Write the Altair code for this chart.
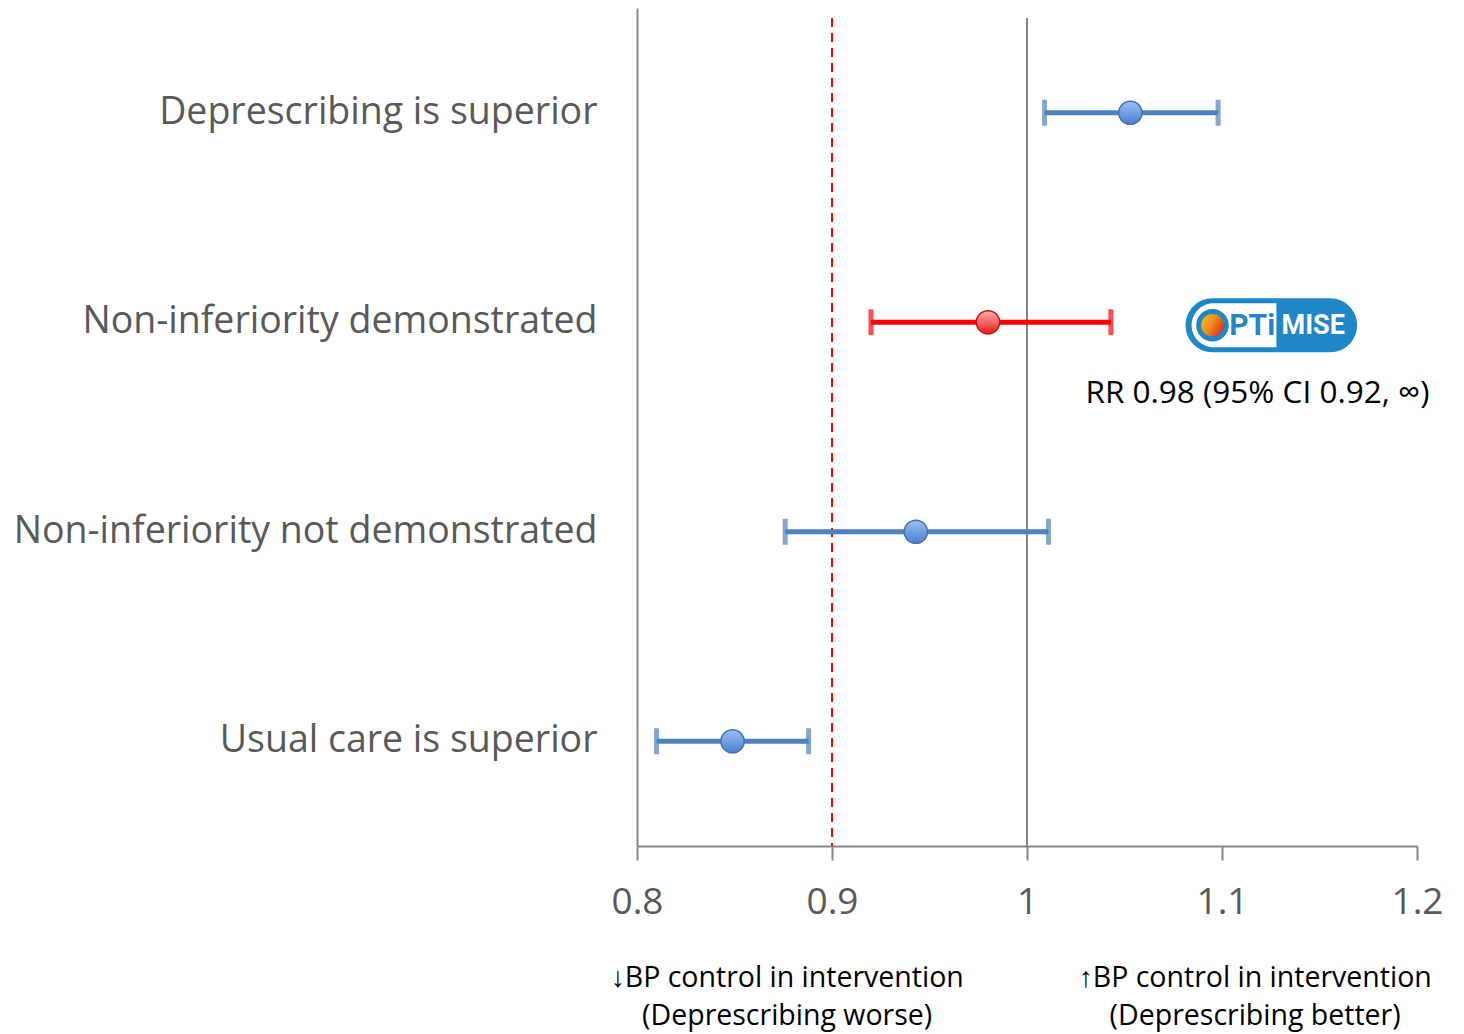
import altair as alt
import pandas as pd

# Trial outcome scenarios (relative risk with 95% CI)
categories = [
    "Deprescribing is superior",
    "Non-inferiority demonstrated",
    "Non-inferiority not demonstrated",
    "Usual care is superior",
]
estimates = [1.053, 0.98, 0.943, 0.849]
lower_ci = [1.009, 0.92, 0.876, 0.810]
upper_ci = [1.098, 1.043, 1.011, 0.888]
groups = ["scenario", "optimise", "scenario", "scenario"]

# Reference lines: null effect and non-inferiority margin
null_value = 1.0
margin_value = 0.9
x_ticks = [0.8, 0.9, 1.0, 1.1, 1.2]

result_label = "RR 0.98 (95% CI 0.92, \u221e)"
result_label_x = 1.030
direction_x = [0.877, 1.117]
direction_line1 = ["\u2193BP control in intervention", "\u2191BP control in intervention"]
direction_line2 = ["(Deprescribing worse)", "(Deprescribing better)"]

# Study badge
badge_row = "Non-inferiority demonstrated"
badge_outer = [1.0813, 1.1693]
badge_inner = [1.0844, 1.1279]
badge_ring_x = 1.0951
badge_word_left = "PTi"
badge_word_left_x = 1.1155
badge_word_right = "MISE"
badge_word_right_x = 1.1468

W, H = 780, 838
FONT = "Open Sans"
GREY = "#868686"
LABEL_GREY = "#595959"
BLUE = "#4F81BD"
RED = "#FF0000"
BADGE_BLUE = "#1F86C8"

df = pd.DataFrame({
    "category": categories,
    "estimate": estimates,
    "lower": lower_ci,
    "upper": upper_ci,
    "group": groups,
})

x_scale = alt.Scale(domain=[0.8, 1.2], nice=False, zero=False)
y_scale = alt.Scale(domain=categories, paddingInner=0, paddingOuter=0)
color_scale = alt.Scale(domain=["scenario", "optimise"], range=[BLUE, RED])

base = alt.Chart(df)

x_axis = alt.Axis(
    values=x_ticks, format=".1~f", grid=False, domainColor=GREY, domainWidth=2,
    tickColor=GREY, tickWidth=2, tickSize=14, labelFont=FONT, labelFontSize=37,
    labelColor=LABEL_GREY, labelPadding=24, labelFlush=False, title=None,
)
y_axis = alt.Axis(
    grid=False, ticks=False, domainColor=GREY, domainWidth=2, labelFont=FONT,
    labelFontSize=37.5, labelColor=LABEL_GREY, labelPadding=40, labelLimit=0, title=None,
)

ref_df = pd.DataFrame({"value": [null_value, margin_value], "kind": ["null", "margin"]})
null_line = alt.Chart(ref_df[ref_df.kind == "null"]).mark_rule(
    color=GREY, strokeWidth=2
).encode(x=alt.X("value:Q", scale=x_scale, axis=x_axis), y=alt.value(10), y2=alt.value(H))
margin_line = alt.Chart(ref_df[ref_df.kind == "margin"]).mark_rule(
    color=RED, strokeWidth=2, strokeDash=[9, 6]
).encode(x=alt.X("value:Q", scale=x_scale), y=alt.value(10), y2=alt.value(H))

ci_lines = base.mark_rule(strokeWidth=5).encode(
    x=alt.X("lower:Q", scale=x_scale, axis=x_axis),
    x2="upper:Q",
    y=alt.Y("category:N", scale=y_scale, axis=y_axis, sort=categories),
    color=alt.Color("group:N", scale=color_scale, legend=None),
)
caps_lo = base.mark_tick(thickness=5, size=26, orient="vertical").encode(
    x=alt.X("lower:Q", scale=x_scale),
    y=alt.Y("category:N", scale=y_scale, sort=categories),
    color=alt.Color("group:N", scale=color_scale, legend=None),
)
caps_hi = base.mark_tick(thickness=5, size=26, orient="vertical").encode(
    x=alt.X("upper:Q", scale=x_scale),
    y=alt.Y("category:N", scale=y_scale, sort=categories),
    color=alt.Color("group:N", scale=color_scale, legend=None),
)

blue_fill = alt.Gradient(
    gradient="linear", x1=0, x2=0, y1=0, y2=1,
    stops=[alt.GradientStop(color="#9DC0F5", offset=0), alt.GradientStop(color="#4A7FCF", offset=1)],
)
red_fill = alt.Gradient(
    gradient="linear", x1=0, x2=0, y1=0, y2=1,
    stops=[alt.GradientStop(color="#FFB0B0", offset=0), alt.GradientStop(color="#E81A1A", offset=1)],
)
pts_blue = alt.Chart(df[df.group == "scenario"]).mark_point(
    shape="circle", filled=True, fill=blue_fill, fillOpacity=1, stroke="#3F70B5",
    strokeWidth=1.5, size=540, opacity=1,
).encode(
    x=alt.X("estimate:Q", scale=x_scale),
    y=alt.Y("category:N", scale=y_scale, sort=categories),
)
pts_red = alt.Chart(df[df.group == "optimise"]).mark_point(
    shape="circle", filled=True, fill=red_fill, fillOpacity=1, stroke="#D01010",
    strokeWidth=1.5, size=540, opacity=1,
).encode(
    x=alt.X("estimate:Q", scale=x_scale),
    y=alt.Y("category:N", scale=y_scale, sort=categories),
)

# Result annotation beside the badge
label_df = pd.DataFrame({"x": [result_label_x], "category": [badge_row], "text": [result_label]})
result_text = alt.Chart(label_df).mark_text(
    align="left", baseline="middle", font=FONT, fontSize=31.5, color="black", yOffset=72,
).encode(
    x=alt.X("x:Q", scale=x_scale),
    y=alt.Y("category:N", scale=y_scale, sort=categories),
    text="text:N",
)

# Badge: blue pill, white left half, gauge ring and wordmark
badge_df = pd.DataFrame({
    "category": [badge_row],
    "x0": [badge_outer[0]], "x1": [badge_outer[1]],
    "i0": [badge_inner[0]], "i1": [badge_inner[1]],
    "ring": [badge_ring_x],
    "wl": [badge_word_left_x], "wr": [badge_word_right_x],
    "tl": [badge_word_left], "tr": [badge_word_right],
})
badge_bg = alt.Chart(badge_df).mark_bar(size=54, cornerRadius=27, color=BADGE_BLUE, yOffset=3).encode(
    x=alt.X("x0:Q", scale=x_scale), x2="x1:Q",
    y=alt.Y("category:N", scale=y_scale, sort=categories),
)
badge_white = alt.Chart(badge_df).mark_bar(
    size=44, cornerRadiusTopLeft=22, cornerRadiusBottomLeft=22, color="white", yOffset=3,
).encode(
    x=alt.X("i0:Q", scale=x_scale), x2="i1:Q",
    y=alt.Y("category:N", scale=y_scale, sort=categories),
)
gauge_fill = alt.Gradient(
    gradient="linear", x1=0, x2=1, y1=0, y2=0.6,
    stops=[alt.GradientStop(color="#F6D21A", offset=0), alt.GradientStop(color="#F08A1C", offset=0.55),
           alt.GradientStop(color="#D8281C", offset=1)],
)
badge_ring = alt.Chart(badge_df).mark_point(
    shape="circle", filled=True, fill=gauge_fill, fillOpacity=1, stroke=BADGE_BLUE,
    strokeWidth=5, size=760, opacity=1, yOffset=3,
).encode(
    x=alt.X("ring:Q", scale=x_scale),
    y=alt.Y("category:N", scale=y_scale, sort=categories),
)
badge_left = alt.Chart(badge_df).mark_text(
    align="center", baseline="middle", font="Roboto", fontWeight="bold", fontSize=30,
    color=BADGE_BLUE, yOffset=4,
).encode(
    x=alt.X("wl:Q", scale=x_scale),
    y=alt.Y("category:N", scale=y_scale, sort=categories),
    text="tl:N",
)
badge_right = alt.Chart(badge_df).mark_text(
    align="center", baseline="middle", font="Roboto", fontWeight="bold", fontSize=27,
    color="white", yOffset=4,
).encode(
    x=alt.X("wr:Q", scale=x_scale),
    y=alt.Y("category:N", scale=y_scale, sort=categories),
    text="tr:N",
)

# Direction captions under the axis
dir_df = pd.DataFrame({"x": direction_x, "l1": direction_line1, "l2": direction_line2})
dir1 = alt.Chart(dir_df).mark_text(
    align="center", baseline="middle", font=FONT, fontSize=28.5, color="black",
).encode(x=alt.X("x:Q", scale=x_scale), y=alt.value(H + 132), text="l1:N")
dir2 = alt.Chart(dir_df).mark_text(
    align="center", baseline="middle", font=FONT, fontSize=28.5, color="black",
).encode(x=alt.X("x:Q", scale=x_scale), y=alt.value(H + 170), text="l2:N")

chart = alt.layer(
    null_line, margin_line, ci_lines, caps_lo, caps_hi, pts_blue, pts_red,
    badge_bg, badge_white, badge_ring, badge_left, badge_right, result_text, dir1, dir2,
).properties(
    width=W, height=H,
    autosize=alt.AutoSizeParams(type="none"),
    padding={"left": 637, "top": 8, "right": 47, "bottom": 188},
    background="white",
).configure_view(stroke=None)

chart.save("out.html", embed_options={"renderer": "svg", "actions": False})
